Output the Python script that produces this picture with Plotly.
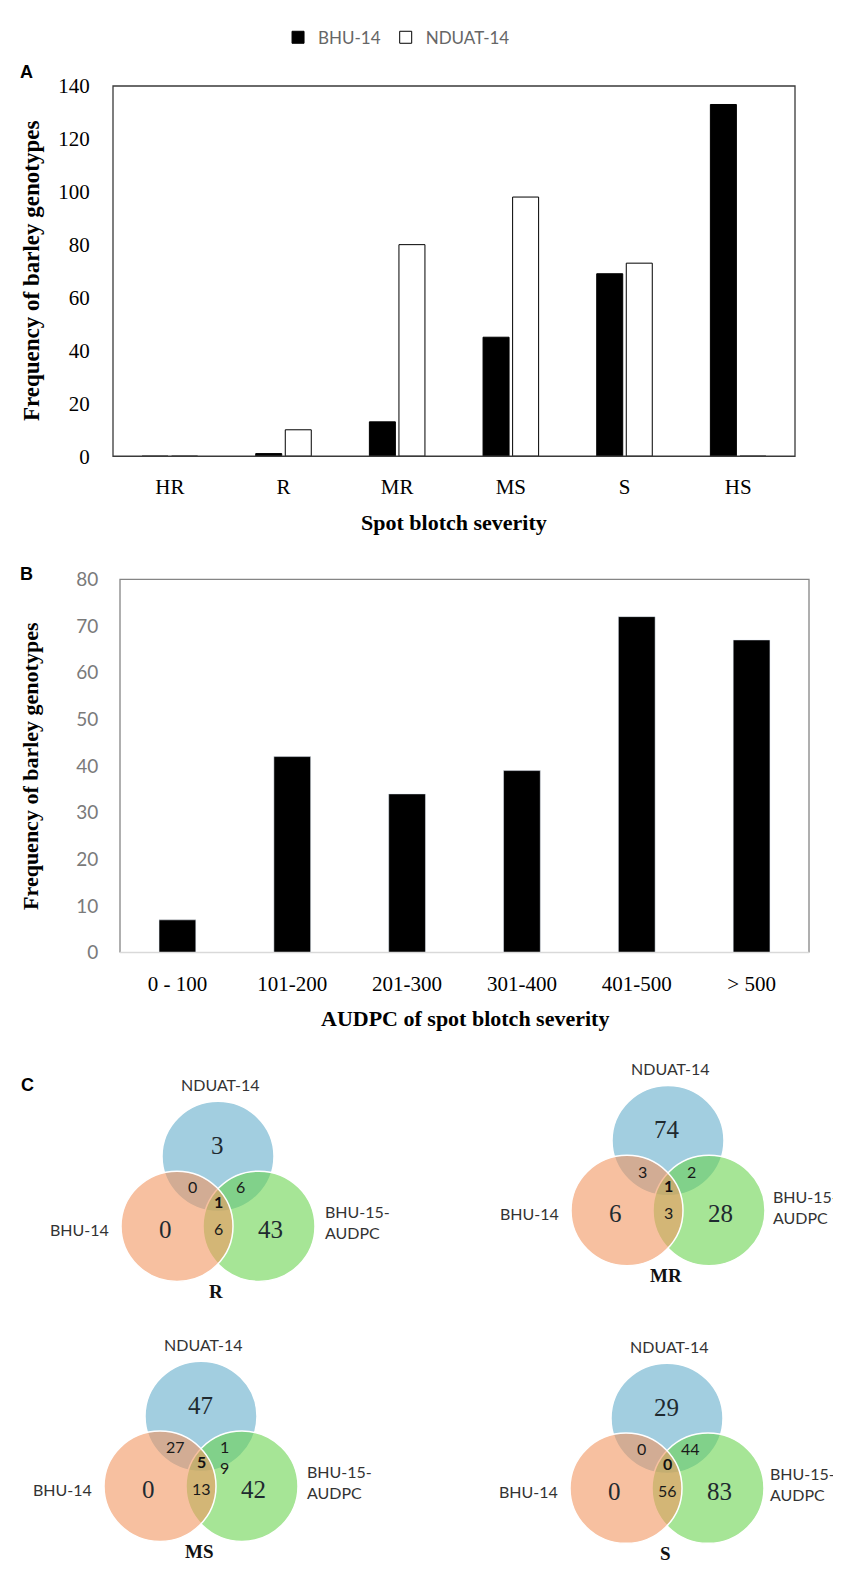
import plotly.graph_objects as go

W, H = 841, 1570

# ---------------- data ----------------
severity_cats = ["HR", "R", "MR", "MS", "S", "HS"]
bhu14_counts = [0, 1, 13, 45, 69, 133]
nduat14_counts = [0, 10, 80, 98, 73, 0]

audpc_cats = ["0 - 100", "101-200", "201-300", "301-400", "401-500", "> 500"]
audpc_counts = [7, 42, 34, 39, 72, 67]

venn_names = ["R", "MR", "MS", "S"]
# region order: N only, B only, G only, N&B, N&G, B&G, N&B&G
venn_R = ["3", "0", "43", "0", "6", "6", "1"]
venn_MR = ["74", "6", "28", "3", "2", "3", "1"]
venn_MS = ["47", "0", "42", "27", "1<br>9", "13", "5"]
venn_S = ["29", "0", "83", "0", "44", "56", "0"]
set_labels = ["NDUAT-14", "BHU-14", "BHU-15-<br>AUDPC"]

# ---------------- layout helpers ----------------
def px(x):
    return x / W

def py(y):
    return 1 - y / H

SERIF = "Liberation Serif"
SANS = "Lato"

fig = go.Figure()

fig.add_trace(go.Bar(x=severity_cats, y=bhu14_counts, name="BHU-14",
                     marker=dict(color="black", line=dict(color="black", width=1)),
                     xaxis="x", yaxis="y"))
fig.add_trace(go.Bar(x=severity_cats, y=nduat14_counts, name="NDUAT-14",
                     marker=dict(color="white", line=dict(color="black", width=1)),
                     xaxis="x", yaxis="y"))
fig.add_trace(go.Bar(x=audpc_cats, y=audpc_counts, name="AUDPC",
                     marker=dict(color="black"), showlegend=False, width=0.32,
                     xaxis="x2", yaxis="y2"))

# panel geometry (pixels)
A_l, A_r, A_t, A_b = 105, 787, 67, 443
B_l, B_r, B_t, B_b = 112, 801, 568, 947

fig.update_layout(
    width=W, height=H,
    margin=dict(l=0, r=0, t=0, b=0),
    paper_bgcolor="white", plot_bgcolor="white",
    barmode="group", bargap=0.48, bargroupgap=0.12,
    showlegend=True,
    legend=dict(orientation="h", x=0.462, xanchor="center", y=py(18), yanchor="middle",
                font=dict(family=SANS, size=17, color="#666666"),
                itemwidth=30, tracegroupgap=0),
    xaxis=dict(domain=[px(A_l), px(A_r)], anchor="y", showgrid=False, zeroline=False,
               showline=False, ticks="outside", ticklen=12, tickcolor="rgba(0,0,0,0)",
               tickfont=dict(family=SERIF, size=21, color="black")),
    yaxis=dict(domain=[py(A_b), py(A_t)], anchor="x", range=[0, 140], dtick=20,
               showgrid=False, zeroline=False, showline=False,
               ticks="outside", ticklen=18, tickcolor="rgba(0,0,0,0)",
               tickfont=dict(family=SERIF, size=21, color="black")),
    xaxis2=dict(domain=[px(B_l), px(B_r)], anchor="y2", showgrid=False, zeroline=False,
                showline=False, ticks="outside", ticklen=12, tickcolor="rgba(0,0,0,0)",
                tickfont=dict(family=SERIF, size=21, color="black")),
    yaxis2=dict(domain=[py(B_b), py(B_t)], anchor="x2", range=[0, 80], dtick=10,
                showgrid=False, zeroline=False, showline=False,
                ticks="outside", ticklen=17, tickcolor="rgba(0,0,0,0)",
                tickfont=dict(family=SANS, size=19, color="#7a7a7a")),
)

shapes = []
# panel A frame
shapes.append(dict(type="rect", xref="x domain", yref="y domain", x0=0, x1=1, y0=0, y1=1,
                   line=dict(color="#3a3a3a", width=1.3)))
# panel B frame (left, top, right gray; bottom light)
shapes.append(dict(type="path", xref="x2 domain", yref="y2 domain",
                   path="M 0 0 L 0 1 L 1 1 L 1 0", line=dict(color="#858585", width=1.3)))
shapes.append(dict(type="line", xref="x2 domain", yref="y2 domain", x0=0, x1=1, y0=0, y1=0,
                   line=dict(color="#d9d9d9", width=1.3)))

annotations = []

def ann(x, y, text, font, xanchor="center", yanchor="middle", angle=0, align="center"):
    annotations.append(dict(x=px(x), y=py(y), xref="paper", yref="paper", text=text,
                            showarrow=False, xanchor=xanchor, yanchor=yanchor,
                            textangle=angle, font=font, align=align))

ann(18, 53, "<b>A</b>", dict(family="Liberation Sans", size=18, color="black"))
ann(18, 563, "<b>B</b>", dict(family="Liberation Sans", size=18, color="black"))
ann(19, 1082, "<b>C</b>", dict(family="Liberation Sans", size=18, color="black"))
ann(23, (A_t + A_b) / 2, "<b>Frequency of barley genotypes</b>",
    dict(family=SERIF, size=23, color="black"), angle=-90)
ann(23, (B_t + B_b) / 2, "<b>Frequency of barley genotypes</b>",
    dict(family=SERIF, size=22, color="black"), angle=-90)
ann((A_l + A_r) / 2, 510, "<b>Spot blotch severity</b>", dict(family=SERIF, size=22, color="black"))
ann((B_l + B_r) / 2, 1014, "<b>AUDPC of spot blotch severity</b>", dict(family=SERIF, size=22, color="black"))

# ---------------- Venn diagrams ----------------
venn_data = [venn_R, venn_MR, venn_MS, venn_S]
venn_anchor = [(210, 1154), (660, 1138), (193, 1418), (659, 1420)]  # blue circle centers
label3_dx = [105, 103, 104, 101]
R_C = 56
DX, DY = 41, 71

blue_fill = "rgb(162,206,224)"
green_fill = "rgba(107,212,80,0.6)"
orange_fill = "rgba(242,150,97,0.6)"

def circle(cx, cy, r, fill):
    shapes.append(dict(type="circle", xref="paper", yref="paper",
                       x0=px(cx - r), x1=px(cx + r), y0=py(cy + r), y1=py(cy - r),
                       fillcolor=fill, line=dict(color="white", width=1.5)))

big_font = dict(family=SERIF, size=25, color="#1f2a30")
small_font = dict(family=SANS, size=16, color="#1a1a1a")
bold_small = dict(family=SANS, size=16, color="#111111", weight="bold")
lab_font = dict(family=SANS, size=16, color="#333333")
name_font = dict(family=SERIF, size=19, color="#111111")

for name, vals, (cx, cy), ldx in zip(venn_names, venn_data, venn_anchor, label3_dx):
    circle(cx, cy, R_C, blue_fill)
    circle(cx + DX, cy + DY, R_C, green_fill)
    circle(cx - DX, cy + DY, R_C, orange_fill)
    n_only, b_only, g_only, nb, ng, bg, nbg = vals
    ann(cx - 1, cy - 11, n_only, big_font)
    ann(cx - 53, cy + 74, b_only, big_font)
    ann(cx + 52, cy + 74, g_only, big_font)
    ann(cx - 26, cy + 31, nb, small_font)
    ann(cx + 23, cy + 31 + (10 if "<br>" in ng else 0), ng, small_font)
    ann(cx, cy + 73, bg, small_font)
    ann(cx, cy + 46, "<b>" + nbg + "</b>", bold_small)
    ann(cx + 2, cy - 73, set_labels[0], lab_font)
    ann(cx - 107, cy + 74, set_labels[1], lab_font, xanchor="right")
    ann(cx + ldx, cy + 67, set_labels[2], lab_font, xanchor="left", align="left")
    ann(cx - 2, cy + 137, "<b>" + name + "</b>", name_font)

fig.update_layout(shapes=shapes, annotations=annotations)

fig.write_html("out.html")
